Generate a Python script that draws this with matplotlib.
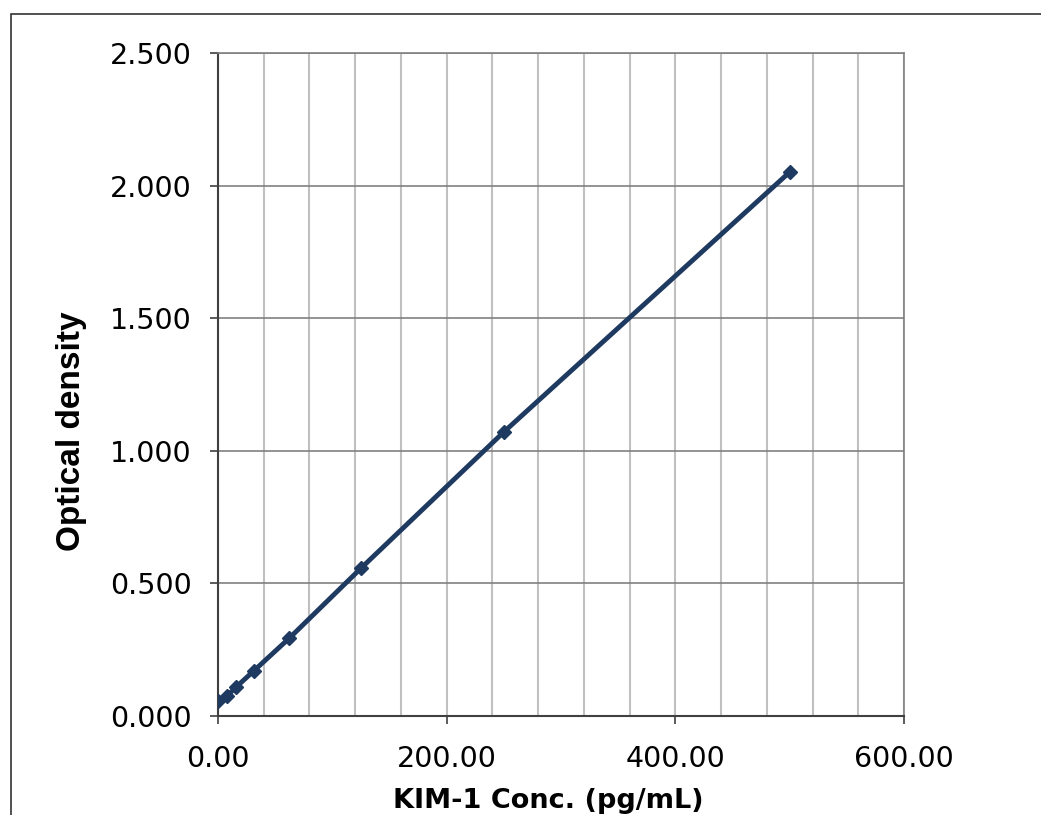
import numpy as np
import matplotlib
matplotlib.use('Agg')
import matplotlib.pyplot as plt
from matplotlib.patches import Rectangle
from matplotlib.ticker import MultipleLocator, FormatStrFormatter

# standard curve data
conc = [0.0, 7.8, 15.6, 31.25, 62.5, 125.0, 250.0, 500.0]
od = [0.058, 0.075, 0.108, 0.170, 0.294, 0.557, 1.071, 2.051]

line_colour = '#1f3a60'

fig = plt.figure(figsize=(10.41, 8.15), dpi=100)

# outer chart border (cut at right and bottom like the source)
fig.patches.append(Rectangle((11 / 1041, -0.05), 1.2, 1 - 14 / 815 + 0.05,
                             transform=fig.transFigure, fill=False,
                             edgecolor='#333333', linewidth=1.2))

ax = fig.add_axes([218 / 1041, 1 - 716 / 815, 686 / 1041, 663 / 815])

ax.plot(conc, od, color=line_colour, linewidth=3.5, marker='D',
        markersize=7, zorder=3)

ax.set_xlim(0, 600)
ax.set_ylim(0, 2.5)
ax.xaxis.set_major_locator(MultipleLocator(200))
ax.xaxis.set_minor_locator(MultipleLocator(40))
ax.yaxis.set_major_locator(MultipleLocator(0.5))
ax.xaxis.set_major_formatter(FormatStrFormatter('%.2f'))
ax.yaxis.set_major_formatter(FormatStrFormatter('%.3f'))

ax.grid(which='minor', axis='x', color='#c0c0c0', linewidth=1.5)
ax.grid(which='major', axis='x', color='#c0c0c0', linewidth=1.5)
ax.grid(which='major', axis='y', color='#808080', linewidth=1.2)
ax.set_axisbelow(True)

for side in ['left', 'bottom']:
    ax.spines[side].set_color('#404040')
    ax.spines[side].set_linewidth(1.5)
for side in ['top', 'right']:
    ax.spines[side].set_color('#808080')
    ax.spines[side].set_linewidth(1.2)

ax.tick_params(which='major', direction='out', length=6, width=1.2,
               color='#404040', labelsize=20.5)
ax.tick_params(axis='x', which='major', pad=15)
ax.tick_params(axis='y', which='major', pad=13)
ax.tick_params(which='minor', length=0)

ax.set_xlabel('KIM-1 Conc. (pg/mL)', fontsize=19.5, fontweight='bold',
              family='DejaVu Sans')
ax.xaxis.set_label_coords(0.481, -0.108)
ax.set_ylabel('Optical density', fontsize=24, fontweight='bold',
              family='Liberation Sans')
ax.yaxis.set_label_coords(-0.191, 0.43)

plt.savefig('out.png', dpi=100)
